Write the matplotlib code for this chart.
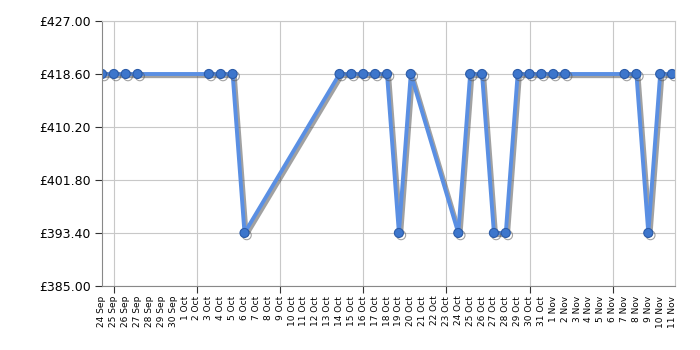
import datetime as dt
import matplotlib
matplotlib.use("Agg")
import matplotlib.pyplot as plt
import matplotlib.dates as mdates
import matplotlib.patheffects as pe

# price history (GBP)
dates = ["2023-09-24", "2023-09-25", "2023-09-26", "2023-09-27",
         "2023-10-03", "2023-10-04", "2023-10-05", "2023-10-06",
         "2023-10-14", "2023-10-15", "2023-10-16", "2023-10-17", "2023-10-18",
         "2023-10-19", "2023-10-20", "2023-10-24", "2023-10-25", "2023-10-26",
         "2023-10-27", "2023-10-28", "2023-10-29", "2023-10-30", "2023-10-31",
         "2023-11-01", "2023-11-02", "2023-11-07", "2023-11-08", "2023-11-09",
         "2023-11-10", "2023-11-11"]
prices = [418.6, 418.6, 418.6, 418.6,
          418.6, 418.6, 418.6, 393.4,
          418.6, 418.6, 418.6, 418.6, 418.6,
          393.4, 418.6, 393.4, 418.6, 418.6,
          393.4, 393.4, 418.6, 418.6, 418.6,
          418.6, 418.6, 418.6, 418.6, 393.4,
          418.6, 418.6]
y_ticks = [385.0, 393.4, 401.8, 410.2, 418.6, 427.0]

x = [dt.datetime.strptime(d, "%Y-%m-%d") for d in dates]

fig = plt.figure(figsize=(7, 3.5), dpi=100)
ax = fig.add_axes([0.1457, 0.183, 0.8186, 0.757])

ax.plot(x, prices, color="#5a8fe3", lw=2.8, marker="o", ms=6.5,
        mfc="#3d76cc", mec="#2b5ba8", mew=0.8,
        path_effects=[pe.SimpleLineShadow(offset=(1.6, -1.6), shadow_color="#555555", alpha=0.55),
                      pe.Normal()])

ax.set_ylim(385, 427)
ax.set_yticks(y_ticks)
ax.set_yticklabels(["£%.2f" % v for v in y_ticks], fontsize=9)

start = dt.datetime(2023, 9, 24)
end = dt.datetime(2023, 11, 11)
ax.set_xlim(start, end + dt.timedelta(hours=6))

# weekly ticks + gridlines, every day labelled
fmt = mdates.DateFormatter("%-d %b")
ax.xaxis.set_major_locator(mdates.WeekdayLocator(byweekday=mdates.MO))
ax.xaxis.set_major_formatter(fmt)
ax.xaxis.set_minor_locator(mdates.DayLocator())
ax.xaxis.set_minor_formatter(fmt)
ax.tick_params(axis="x", which="major", length=5, color="#333333", labelsize=6.5,
               rotation=90, pad=2)
ax.tick_params(axis="x", which="minor", length=0, labelsize=6.5, labelrotation=90, pad=7)
ax.tick_params(axis="y", length=5, color="#333333", pad=3)

ax.grid(True, which="major", color="#c8c8c8", lw=0.8)
ax.set_axisbelow(True)

for s in ["top", "right"]:
    ax.spines[s].set_color("#c8c8c8")
for s in ["left", "bottom"]:
    ax.spines[s].set_color("#888888")

plt.savefig("out.png")
